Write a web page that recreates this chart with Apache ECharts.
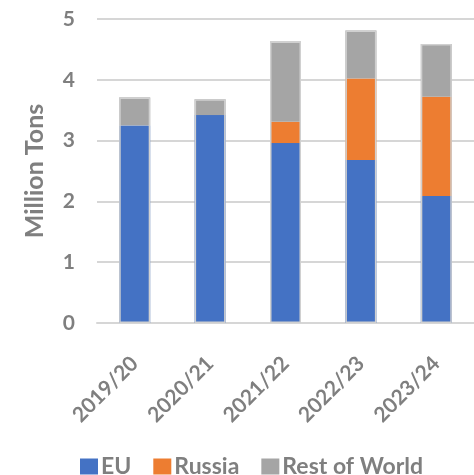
<!DOCTYPE html>
<html>
<head>
<meta charset="utf-8">
<script src="https://cdn.jsdelivr.net/npm/echarts@6/dist/echarts.min.js"></script>
<style>
  html, body { margin: 0; padding: 0; background: #fff; }
  #chart { width: 474px; height: 475px; }
</style>
</head>
<body>
<div id="chart"></div>
<script>
// Marketing years on the category axis
const years = ['2019/20', '2020/21', '2021/22', '2022/23', '2023/24'];

// Supply by origin, million tons
const euValues = [3.25, 3.42, 2.96, 2.68, 2.09];
const russiaValues = [0, 0, 0.35, 1.34, 1.63];
const restValues = [0.46, 0.26, 1.32, 0.79, 0.87];

// Value-axis ticks
const yTicks = [0, 1, 2, 3, 4, 5];

// Stack totals, used for the thin outline drawn round each column
const totals = years.map((_, i) => euValues[i] + russiaValues[i] + restValues[i]);

const textGrey = '#7f7f7f';
const gridGrey = '#d6d6d6';
const fontFamily = 'Lato, "Liberation Sans", sans-serif';

const chart = echarts.init(document.getElementById('chart'), null, { renderer: 'canvas' });

const segment = (name, values, color) => ({
  name,
  type: 'bar',
  stack: 'origin',
  data: values,
  barWidth: 31,
  itemStyle: { color },
  emphasis: { disabled: true }
});

chart.setOption({
  animation: false,
  backgroundColor: '#ffffff',
  grid: { left: 97, top: 19, width: 389, height: 304, containLabel: false },
  legend: {
    data: ['EU', 'Russia', 'Rest of World'],
    left: 80,
    top: 455,
    padding: 0,
    itemWidth: 18,
    itemHeight: 16,
    itemGap: 22,
    icon: 'rect',
    textStyle: {
      color: textGrey,
      fontFamily,
      fontWeight: 'bold',
      fontSize: 23,
      padding: [0, 0, 0, -2]
    }
  },
  xAxis: {
    type: 'category',
    data: years,
    axisLine: { show: true, lineStyle: { color: gridGrey, width: 2 } },
    axisTick: { show: false },
    axisLabel: {
      rotate: 45,
      margin: 37,
      color: textGrey,
      fontFamily,
      fontWeight: 'bold',
      fontSize: 21
    }
  },
  yAxis: {
    type: 'value',
    min: yTicks[0],
    max: yTicks[yTicks.length - 1],
    interval: 1,
    name: 'Million Tons',
    nameLocation: 'middle',
    nameGap: 50,
    nameTextStyle: {
      color: textGrey,
      fontFamily,
      fontWeight: 'bold',
      fontSize: 25
    },
    axisLine: { show: false },
    axisTick: { show: false },
    splitLine: { show: true, lineStyle: { color: gridGrey, width: 2 } },
    axisLabel: {
      margin: 22,
      color: textGrey,
      fontFamily,
      fontWeight: 'bold',
      fontSize: 21
    }
  },
  series: [
    segment('EU', euValues, '#4472c4'),
    segment('Russia', russiaValues, '#ed7d31'),
    segment('Rest of World', restValues, '#a5a5a5'),
    {
      name: 'outline',
      type: 'bar',
      data: totals,
      barWidth: 31,
      barGap: '-100%',
      silent: true,
      z: 3,
      itemStyle: { color: 'rgba(0,0,0,0)', borderColor: '#d0d0d0', borderWidth: 1.5 }
    }
  ]
});
</script>
</body>
</html>
